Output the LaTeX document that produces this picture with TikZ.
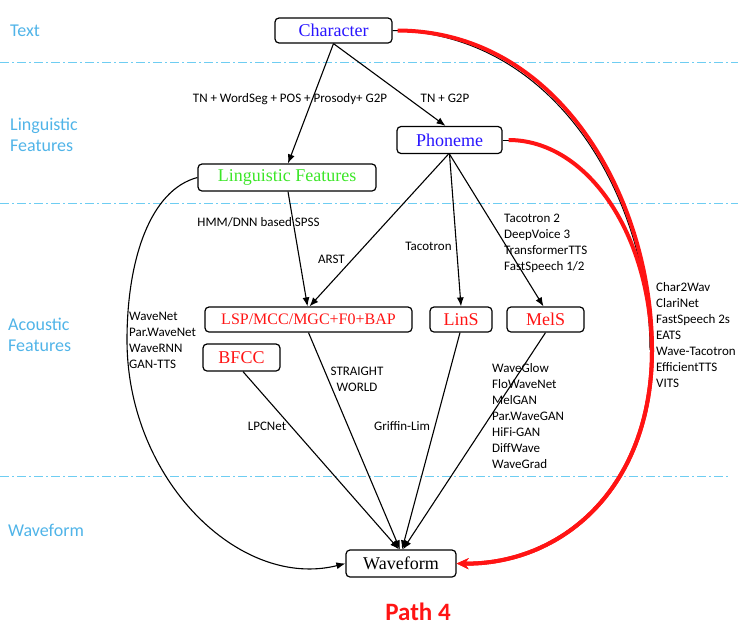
\documentclass[tikz,border=0pt]{standalone}
\usepackage{fontspec}
\setmainfont{Liberation Serif}
\newfontfamily\carlito{Carlito}
\usetikzlibrary{arrows.meta}
\definecolor{lblue}{RGB}{80,180,232}
\definecolor{dline}{RGB}{110,205,242}
\definecolor{nblue}{RGB}{40,20,255}
\definecolor{ngreen}{RGB}{60,230,40}
\definecolor{nred}{RGB}{255,20,20}
\begin{document}
\begin{tikzpicture}[x=1pt,y=-1pt,
  box/.style={draw, rounded corners=4pt, line width=1.2pt, minimum height=25pt, inner sep=0pt, font=\fontsize{18}{20}\selectfont},
  lbl/.style={inner sep=0pt, font=\carlito\fontsize{13}{15}\selectfont, text height=8pt, text depth=2.5pt},
  side/.style={inner sep=0pt, anchor=west, text=lblue, font=\carlito\fontsize{18}{20}\selectfont, text height=12pt, text depth=3pt},
  sepline/.style={dline, line width=1pt, dash pattern=on 9pt off 3pt on 2pt off 3pt},
  arr/.style={line width=1.1pt, -{Latex[length=9pt,width=7pt]}},
  rarr/.style={nred, line width=4pt, -{Stealth[length=12pt,width=11pt]}},
]
\useasboundingbox (0,0) rectangle (738,627);

% separators
\draw[sepline] (0,62) -- (738,62);
\draw[sepline] (0,203) -- (738,203);
\draw[sepline] (0,476) -- (728,476);

% side labels
\node[side] (sText) at (10,32) {Text};
\node[side] (sLing1) at (10,126) {Linguistic};
\node[side] (sLing2) at (10,147) {Features};
\node[side] (sAc1) at (8,326) {Acoustic};
\node[side] (sAc2) at (8,347) {Features};
\node[side] (sWave) at (8,532) {Waveform};

% nodes
\node[box, minimum width=117pt, text=nblue] (char) at (333.5,30.5) {Character};
\node[box, minimum width=105pt, minimum height=27pt, text=nblue] (pho) at (449.5,140) {Phoneme};
\node[box, minimum width=178pt, minimum height=27pt, text=ngreen] (lf) at (287,177.5) {Linguistic Features};
\node[box, minimum width=207pt, text=nred, font=\fontsize{16}{18}\selectfont] (lsp) at (308.5,319.5) {LSP/MCC/MGC+F0+BAP};
\node[box, minimum width=62pt, text=nred] (lins) at (461,319.5) {LinS};
\node[box, minimum width=77pt, text=nred] (mels) at (545.5,319.5) {MelS};
\node[box, minimum width=77pt, minimum height=27pt, text=nred] (bfcc) at (241.5,357.5) {BFCC};
\node[box, minimum width=110pt, minimum height=27pt] (wave) at (401,563.5) {Waveform};

% black connectors
\draw[arr] (char.south) -- ([xshift=1pt]lf.north);
\draw[arr] (char.south) -- ([xshift=-4pt]pho.north);
\draw[arr] ([xshift=1pt]lf.south) -- ([xshift=-1pt]lsp.north);
\draw[arr] ([xshift=-1pt]pho.south) -- ([xshift=1pt]lsp.north);
\draw[arr] (pho.south) -- (lins.north);
\draw[arr] (pho.south) -- ([xshift=-2pt]mels.north);
\draw[arr] (lsp.south) -- ([xshift=-1pt]wave.north);
\draw[arr] ([xshift=1.5pt]bfcc.south) -- ([xshift=-2pt]wave.north);
\draw[arr] ([xshift=-1pt]lins.south) -- ([xshift=1pt]wave.north);
\draw[arr] (mels.south) -- ([xshift=2pt]wave.north);
\coordinate (lfmid) at (127,340);
\draw[arr] (lf.west) .. controls (150,190) and (127,260) .. (lfmid)
  .. controls (127,480) and (240,590) .. (wave.west);

% black curve under red
\coordinate (bmid) at (650,350);
\draw[line width=1pt] (char.east) .. controls (558,33.5) and (650,201) .. (bmid);
\draw[line width=1pt] (pho.east) -- ++(8,0);

% red connectors
\coordinate (rmid) at (652,350);
\draw[rarr] ([xshift=5pt]char.east) .. controls (560,31) and (652,200) .. (rmid)
  .. controls (652,490) and (560,565) .. (wave.east);
\draw[rarr] ([xshift=6pt]pho.east) .. controls (585,140) and (650,230) .. (rmid)
  .. controls (652,490) and (560,565) .. (wave.east);

% edge labels
\node[lbl] (l1) at (290,100) {TN + WordSeg + POS + Prosody+ G2P};
\node[lbl] (l2) at (445,100) {TN + G2P};
\node[lbl] (l3) at (258.5,224) {HMM/DNN based SPSS};
\node[lbl] (l4) at (331.5,261) {ARST};
\node[lbl] (l5) at (428.5,248) {Tacotron};
\foreach \t [count=\i] in {Tacotron 2, DeepVoice 3, TransformerTTS, FastSpeech 1/2}
  \node[lbl, anchor=west] (ta\i) at (504,{204+16*\i}) {\t};
\foreach \t [count=\i] in {WaveNet, Par.WaveNet, WaveRNN, GAN-TTS}
  \node[lbl, anchor=west] (wn\i) at (129,{302+16*\i}) {\t};
\node[lbl] (st1) at (357,373) {STRAIGHT};
\node[lbl] (st2) at (357,389) {WORLD};
\node[lbl] (lpc) at (267,428) {LPCNet};
\node[lbl] (gl) at (402,428) {Griffin-Lim};
\foreach \t [count=\i] in {WaveGlow, FloWaveNet, MelGAN, Par.WaveGAN, HiFi-GAN, DiffWave, WaveGrad}
  \node[lbl, anchor=west] (wg\i) at (492,{354+16*\i}) {\t};
\foreach \t [count=\i] in {Char2Wav, ClariNet, FastSpeech 2s, EATS, Wave-Tacotron, EfficientTTS, VITS}
  \node[lbl, anchor=west] (cw\i) at (656,{273+16*\i}) {\t};

\node[inner sep=0pt, text=nred, font=\carlito\bfseries\fontsize{25}{28}\selectfont, text height=17pt, text depth=0pt] (path) at (418,612) {Path 4};
\end{tikzpicture}
\end{document}
